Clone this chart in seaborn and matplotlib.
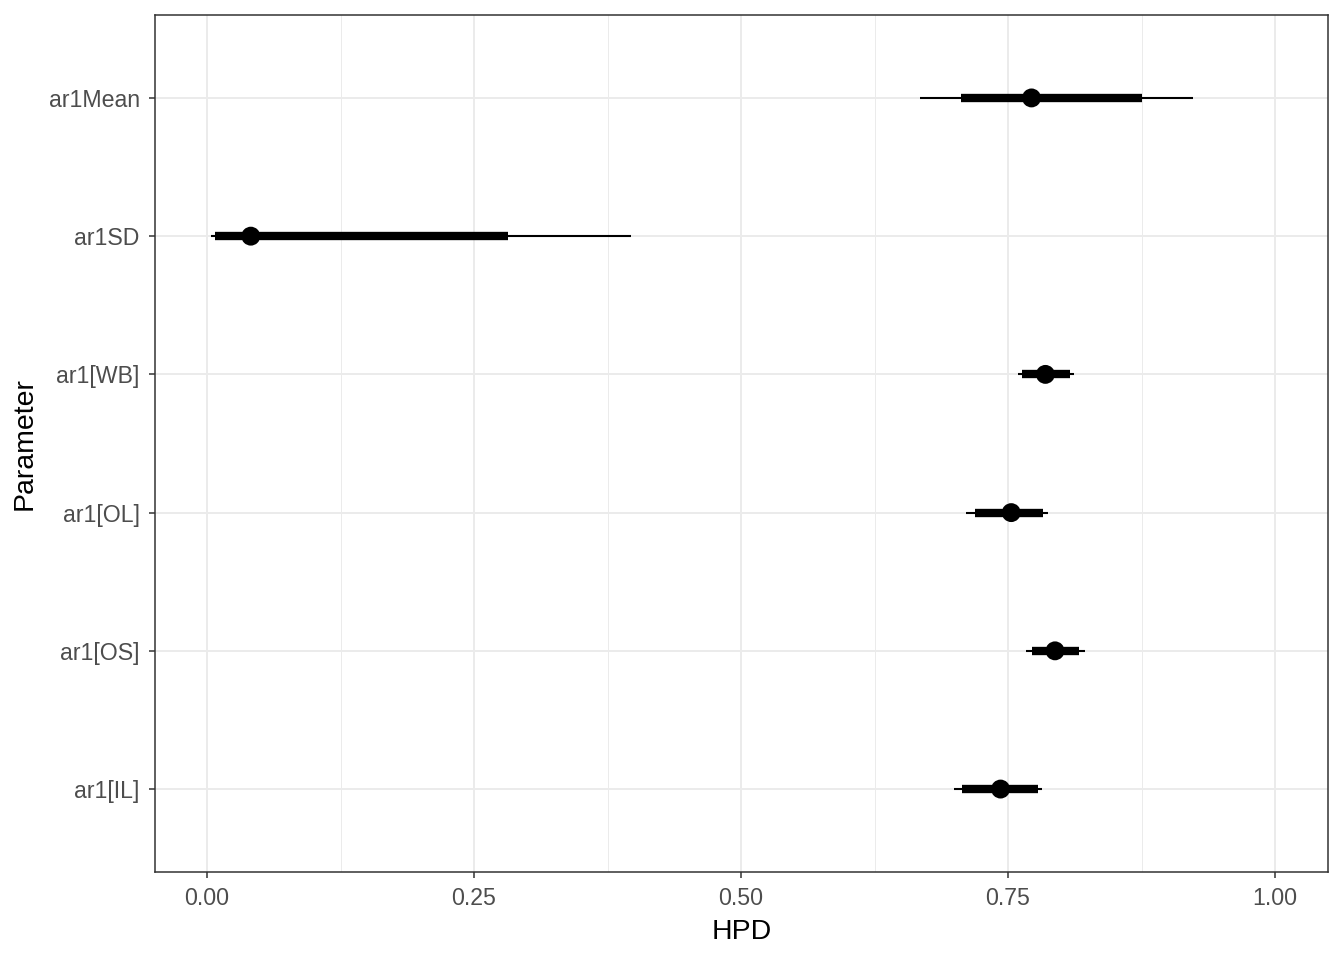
import matplotlib

matplotlib.use("Agg")
import matplotlib.pyplot as plt
import numpy as np
import pandas as pd
import seaborn as sns
from matplotlib.ticker import MultipleLocator

# HPD summaries (outer = thin line, inner = thick bar)
parameters = ["ar1Mean", "ar1SD", "ar1[WB]", "ar1[OL]", "ar1[OS]", "ar1[IL]"]
point_est = [0.772, 0.041, 0.785, 0.753, 0.794, 0.743]
inner_low = [0.706, 0.0075, 0.763, 0.719, 0.772, 0.707]
inner_high = [0.875, 0.282, 0.808, 0.783, 0.816, 0.778]
outer_low = [0.668, 0.0037, 0.759, 0.711, 0.767, 0.699]
outer_high = [0.923, 0.397, 0.812, 0.787, 0.822, 0.782]
x_ticks = [0.00, 0.25, 0.50, 0.75, 1.00]

df = pd.DataFrame({
    "Parameter": parameters,
    "pos": np.arange(len(parameters)),
    "est": point_est,
    "lo_in": inner_low, "hi_in": inner_high,
    "lo_out": outer_low, "hi_out": outer_high,
})

sns.set_theme(style="whitegrid")
plt.rcParams["font.family"] = ["Liberation Sans", "DejaVu Sans"]

fig, ax = plt.subplots(figsize=(13.44, 9.6), dpi=100)
fig.subplots_adjust(left=155 / 1344, right=1328 / 1344, top=1 - 15 / 960, bottom=1 - 872 / 960)

ax.hlines(df["pos"], df["lo_out"], df["hi_out"], color="black", linewidth=1.5, zorder=3)
ax.hlines(df["pos"], df["lo_in"], df["hi_in"], color="black", linewidth=6, zorder=4)
sns.scatterplot(data=df, x="est", y="pos", color="black", s=185, edgecolor="none",
                zorder=5, ax=ax, legend=False)

ax.set_xlim(-0.0487, 1.0496)
ax.set_ylim(len(parameters) - 0.4, -0.6)
ax.set_xticks(x_ticks)
ax.set_xticklabels([f"{t:.2f}" for t in x_ticks])
ax.xaxis.set_minor_locator(MultipleLocator(0.125))
ax.set_yticks(df["pos"])
ax.set_yticklabels(parameters)

ax.grid(which="major", color="#EBEBEB", linewidth=1.4)
ax.grid(which="minor", axis="x", color="#EBEBEB", linewidth=0.7)
ax.set_axisbelow(True)
for s in ax.spines.values():
    s.set_color("#333333")
    s.set_linewidth(1.1)
    s.set_visible(True)

ax.tick_params(axis="both", which="major", length=4, width=1.1, color="#333333",
               labelsize=16.7, labelcolor="#4D4D4D", pad=7, bottom=True, left=True)
ax.tick_params(axis="both", which="minor", length=0)
ax.set_xlabel("HPD", fontsize=20.5, color="black", labelpad=6)
ax.set_ylabel("Parameter", fontsize=20.5, color="black", labelpad=8)

fig.savefig("out.png", dpi=100)
